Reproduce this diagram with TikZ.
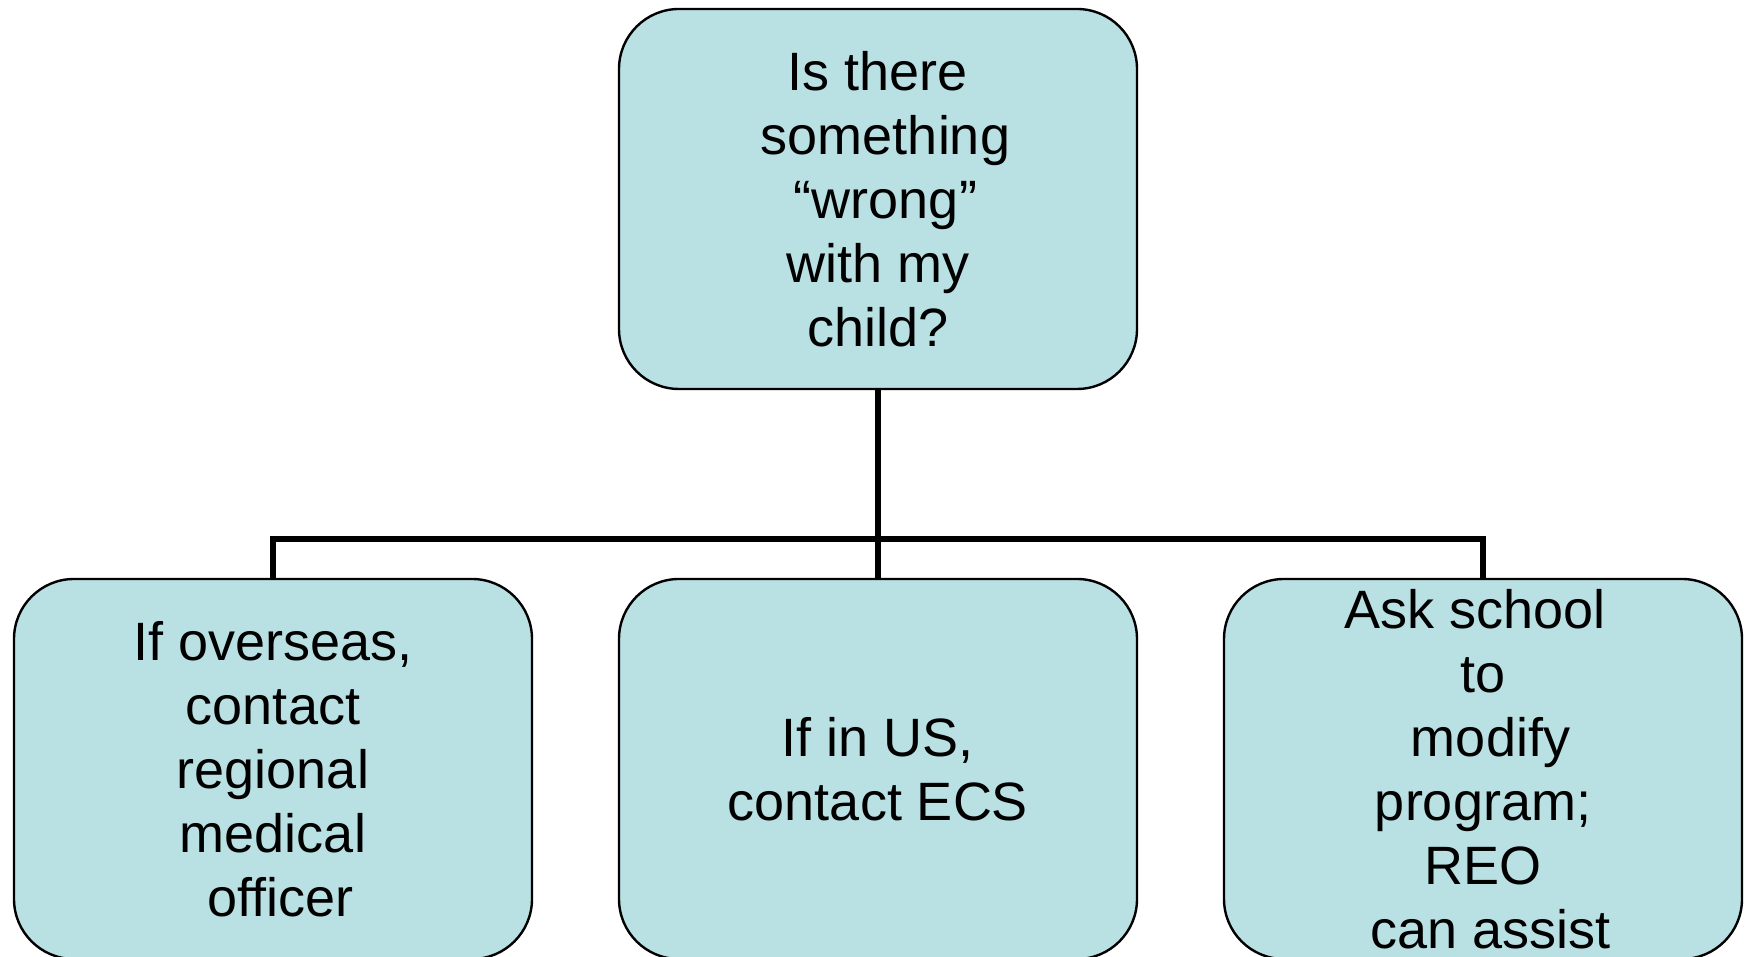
\documentclass[tikz,border=0pt]{standalone}
\usepackage{fontspec}
\setmainfont{Liberation Sans}
\definecolor{boxfill}{RGB}{185,224,227}
\begin{document}
\begin{tikzpicture}[x = 0.5pt, y = 0.5pt,
                    box/.style = {shape = rectangle, rounded corners = 30pt,
                                  draw, line width = 1.2pt, fill = boxfill,
                                  minimum width = 259pt, inner sep = 0pt,
                                  align = center,
                                  font = \fontsize{27}{32}\selectfont},
                    link/.style = {draw, line width = 2.8pt}]
      \useasboundingbox (0, 0) rectangle (1746, 957);

      \node [box, minimum height = 190pt] (top) at (878, 758)
            {Is there\\ \hspace*{0.278em}something\\ \hspace*{0.278em}“wrong”\\
             with my\\ child?};

      \node [box, minimum height = 190pt] (left)  at (273, 188)
            {If overseas,\\ contact\\ regional\hspace*{0.278em}\\ medical\\
             \hspace*{0.278em}officer};
      \node [box, minimum height = 190pt] (mid)   at (878, 188)
            {If in US,\\ contact ECS};
      \node [box, minimum height = 190pt] (right) at (1483, 188)
            {Ask school\hspace*{0.278em}\\ to\\ \hspace*{0.278em}modify\\
             program;\hspace*{0.278em}\\ REO\\ \hspace*{0.278em}can assist};

      \coordinate (fork) at (878, 418);
      \draw [link] (top.south) -- (fork)
            (fork) -| (left.north)
            (fork) -- (mid.north)
            (fork) -| (right.north);
    \end{tikzpicture}
\end{document}
